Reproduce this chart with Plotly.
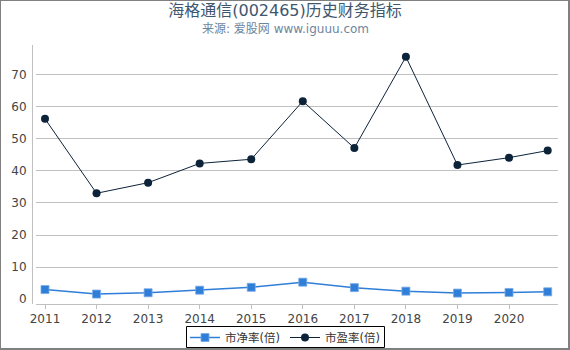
import plotly.graph_objects as go

# Report periods (numeric positions on the time axis; last is 2021 Q3)
periods = [2011, 2012, 2013, 2014, 2015, 2016, 2017, 2018, 2019, 2020, 2020.75]
pb = [3.0, 1.6, 2.0, 2.8, 3.7, 5.3, 3.6, 2.5, 1.9, 2.1, 2.3]
pe = [56.2, 33.0, 36.3, 42.3, 43.6, 61.7, 47.1, 75.5, 41.8, 44.1, 46.3]
year_ticks = [2011, 2012, 2013, 2014, 2015, 2016, 2017, 2018, 2019, 2020]
y_ticks = [0, 10, 20, 30, 40, 50, 60, 70]

FONT = "DejaVu Sans, Noto Sans CJK SC, sans-serif"
W, H = 570, 350
ML, MR, MT, MB = 32, 12, 45, 46
pw = W - ML - MR
ph = H - MT - MB


def px_x(v):
    return (v - ML) / pw


def px_y(v):
    return (MT + ph - v) / ph


fig = go.Figure()
fig.add_trace(go.Scatter(
    x=periods, y=pb, name="市净率(倍)", mode="lines+markers",
    line=dict(color="#2f7ed8", width=1.5),
    marker=dict(symbol="square", size=8, color="#2f7ed8",
                line=dict(color="rgba(120,170,230,0.8)", width=1)),
))
fig.add_trace(go.Scatter(
    x=periods, y=pe, name="市盈率(倍)", mode="lines+markers",
    line=dict(color="#0d233a", width=1),
    marker=dict(symbol="circle", size=8, color="#0d233a"),
))

yr = [-1.5, 79.2]
fig.update_layout(
    width=W, height=H,
    margin=dict(l=ML, r=MR, t=MT, b=MB, pad=0, autoexpand=False),
    paper_bgcolor="white", plot_bgcolor="white",
    font=dict(family=FONT, size=12, color="#555"),
    showlegend=True,
    title=dict(text="海格通信(002465)历史财务指标", x=0.5, xanchor="center",
               y=1 - 10.5 / H, yanchor="middle", yref="container",
               font=dict(family=FONT, size=16, color="#3E576F")),
    xaxis=dict(domain=[4 / pw, 1], range=[2010.8255, 2020.95],
               tickvals=year_ticks, ticktext=[str(v) for v in year_ticks],
               showgrid=False, zeroline=False, showline=True,
               linecolor="#C0C0C0", linewidth=1,
               ticks="outside", ticklen=4, tickcolor="#C0C0C0",
               tickfont=dict(size=12, color="#444")),
    yaxis=dict(range=yr, tickvals=y_ticks[1:], showticklabels=False,
               showgrid=True, gridcolor="#C0C0C0", gridwidth=1,
               zeroline=False, showline=False, ticks=""),
    yaxis2=dict(range=yr, overlaying="y", anchor="free", position=0,
                tickvals=y_ticks, ticktext=[str(v) for v in y_ticks],
                showgrid=False, zeroline=False, showline=True,
                linecolor="#C0C0C0", linewidth=1, ticks="",
                ticklabelstandoff=3,
                tickfont=dict(size=12, color="#444")),
    legend=dict(orientation="h", x=px_x(285), xanchor="center",
                y=px_y(337.5), yanchor="middle",
                borderwidth=0, bgcolor="rgba(0,0,0,0)",
                itemwidth=30, font=dict(size=11.5, color="#333"),
                tracegroupgap=0),
    annotations=[dict(text="来源: 爱股网 www.iguuu.com", xref="paper", yref="paper",
                      x=px_x(285), y=px_y(29),
                      xanchor="center", yanchor="middle", showarrow=False,
                      font=dict(family=FONT, size=12, color="#6D869F"))],
    shapes=[
        dict(type="rect", xref="paper", yref="paper",
             x0=px_x(0), x1=px_x(W - 1), y0=px_y(H - 1), y1=px_y(0),
             line=dict(color="#808080", width=2)),
        dict(type="rect", xref="paper", yref="paper",
             x0=px_x(186.5), x1=px_x(384.5), y0=px_y(347.5), y1=px_y(326.5),
             line=dict(color="black", width=1)),
    ],
)
# dummy trace on yaxis2 so it renders
fig.add_trace(go.Scatter(x=[periods[0]], y=[None], yaxis="y2", showlegend=False,
                         hoverinfo="skip"))

fig.write_html("out.html")
